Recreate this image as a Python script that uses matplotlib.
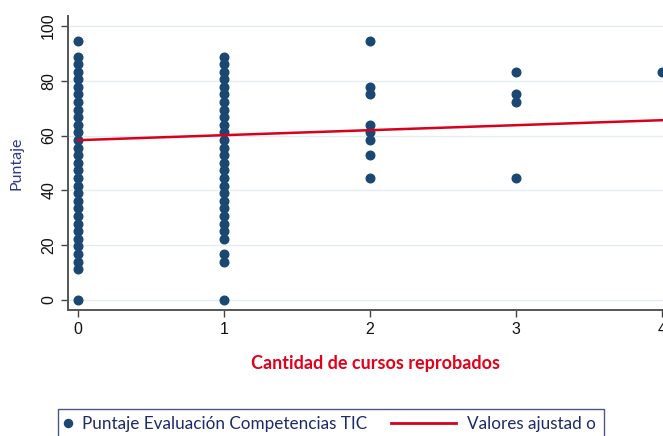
import numpy as np
import matplotlib.pyplot as plt
from matplotlib.lines import Line2D
from matplotlib.legend_handler import HandlerLine2D

# puntajes como respuestas correctas sobre 36, por cantidad de cursos reprobados
raw0 = [0, 4, 5, 6, 7, 8, 9, 10, 11, 12, 13, 14, 15, 16, 17, 18, 19, 20,
        21, 22, 23, 24, 25, 26, 27, 28, 29, 30, 31, 32, 34]
raw1 = [0, 5, 6, 8, 9, 10, 11, 12, 13, 14, 15, 16, 17, 18, 19, 20,
        21, 22, 23, 24, 25, 26, 27, 28, 29, 30, 31, 32]
raw2 = [16, 19, 21, 22, 23, 27, 28, 34]
raw3 = [16, 26, 27, 30]
raw4 = [30]
n_items = 36

# valores ajustados (recta de regresion)
fit_x = [0, 4]
fit_y = [58.3, 65.6]

xticks = [0, 1, 2, 3, 4]
yticks = [0, 20, 40, 60, 80, 100]

blue = '#1b4872'
red = '#d9001b'
navy = '#1d2a6b'

groups = [raw0, raw1, raw2, raw3, raw4]
xs = []
ys = []
for k, g in enumerate(groups):
    xs += [k] * len(g)
    ys += [100.0 * v / n_items for v in g]

fig = plt.figure(figsize=(6.63, 4.36), dpi=100)
ax = fig.add_axes([68/663, 1 - 310/436, 1 - 68/663, (310 - 16)/436])
ax.set_facecolor('white')

for yt in yticks:
    ax.axhline(yt, color='#e4ecf0', lw=1, zorder=0)

ax.plot(xs, ys, 'o', color=blue, ms=6.2, zorder=2, clip_on=False)
ax.plot(fit_x, fit_y, '-', color=red, lw=1.8, zorder=3)

ax.set_xlim(-0.068, 4.007)
ax.set_ylim(-3.8, 103.7)
ax.set_xticks(xticks)
ax.set_yticks(yticks)
ax.tick_params(axis='both', direction='out', length=5, width=1, color='#444444',
               labelsize=11.5, labelcolor='#111111')
ax.tick_params(axis='y', labelrotation=90)
for lab in ax.get_yticklabels():
    lab.set_verticalalignment('center')
    lab.set_fontfamily('Liberation Sans')
for lab in ax.get_xticklabels():
    lab.set_fontfamily('Liberation Sans')

for s in ['top', 'right']:
    ax.spines[s].set_visible(False)
for s in ['left', 'bottom']:
    ax.spines[s].set_color('#555555')
    ax.spines[s].set_linewidth(1.4)

ax.set_ylabel('Puntaje', color='#2b3990', fontsize=11.5, family='Lato', labelpad=13)
ax.set_xlabel('Cantidad de cursos reprobados', color='#e2001a', fontsize=13,
              family='Lato', fontweight='bold', labelpad=13)
ax.xaxis.label.set_x(0.516)


class LongLine(HandlerLine2D):
    # linea de leyenda mas larga que el espacio del marcador
    def create_artists(self, legend, orig_handle, xdescent, ydescent,
                       width, height, fontsize, trans):
        extra = 3.5 * fontsize
        return super().create_artists(legend, orig_handle, xdescent + extra,
                                      ydescent, width + extra, height, fontsize, trans)


h1 = Line2D([], [], marker='o', ls='none', color=blue, ms=5.8)
h2 = Line2D([], [], color=red, lw=2)
leg = fig.legend([h1, h2], ['Puntaje Evaluación Competencias TIC', 'Valores ajustad o'],
                 loc='upper left', bbox_to_anchor=(58/663, 1 - 408.5/436), borderaxespad=0,
                 ncol=2, frameon=True, fancybox=False, handlelength=0.3,
                 handletextpad=0.65, columnspacing=4.9, borderpad=0.45,
                 handler_map={h2: LongLine()},
                 prop={'family': 'Lato', 'size': 12.3})
leg.get_frame().set_edgecolor(navy)
leg.get_frame().set_linewidth(1.0)
for t in leg.get_texts():
    t.set_color(navy)

fig.savefig('out.png', dpi=100)
